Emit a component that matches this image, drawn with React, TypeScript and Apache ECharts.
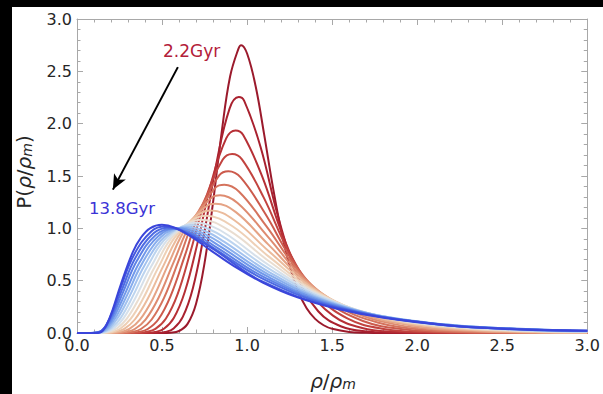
import React, { useEffect, useRef } from "react";
import * as echarts from "echarts";

// Density PDFs P(rho/rho_m), earliest (2.2 Gyr) first, latest (13.8 Gyr) last.
// Each entry is [rho/rho_m, P].
const profile00 = [
  [0, 0], [0.5, 0], [0.55, 0.003], [0.6, 0.019], [0.65, 0.087], [0.7, 0.28],
  [0.75, 0.67], [0.8, 1.25], [0.85, 1.91], [0.9, 2.45], [0.95, 2.72], [0.965, 2.75],
  [1.0, 2.67], [1.05, 2.36], [1.1, 1.9], [1.15, 1.41], [1.2, 0.98], [1.25, 0.64],
  [1.3, 0.4], [1.35, 0.236], [1.4, 0.135], [1.45, 0.074], [1.5, 0.04], [1.6, 0.01],
  [1.7, 0.002], [1.8, 0], [3.0, 0],
];
const profile01 = [
  [0, 0], [0.47, 0], [0.518, 0.009], [0.568, 0.043], [0.622, 0.154], [0.682, 0.433],
  [0.747, 0.947], [0.819, 1.615], [0.897, 2.144], [0.951, 2.254], [0.983, 2.217],
  [1.078, 1.785], [1.181, 1.12], [1.294, 0.547], [1.418, 0.208], [1.554, 0.062],
  [1.703, 0.014], [1.866, 0.003], [2.0, 0], [3.0, 0],
];
const profile02 = [
  [0, 0], [0.41, 0], [0.459, 0.009], [0.511, 0.04], [0.569, 0.143], [0.634, 0.394],
  [0.707, 0.849], [0.787, 1.423], [0.877, 1.859], [0.932, 1.935], [0.977, 1.891],
  [1.088, 1.498], [1.212, 0.924], [1.351, 0.444], [1.505, 0.166], [1.676, 0.048],
  [1.868, 0.011], [2.081, 0.002], [2.25, 0], [3.0, 0],
];
const profile03 = [
  [0, 0], [0.36, 0], [0.407, 0.009], [0.461, 0.039], [0.522, 0.136], [0.591, 0.369],
  [0.668, 0.781], [0.757, 1.289], [0.857, 1.657], [0.912, 1.711], [0.97, 1.659],
  [1.098, 1.293], [1.243, 0.785], [1.407, 0.371], [1.592, 0.137], [1.803, 0.039],
  [2.041, 0.009], [2.31, 0.002], [2.5, 0], [3.0, 0],
];
const profile04 = [
  [0, 0], [0.31, 0], [0.362, 0.009], [0.416, 0.038], [0.479, 0.131], [0.55, 0.352],
  [0.633, 0.734], [0.728, 1.192], [0.837, 1.508], [0.89, 1.546], [0.962, 1.487],
  [1.106, 1.141], [1.271, 0.682], [1.462, 0.318], [1.681, 0.115], [1.932, 0.033],
  [2.221, 0.007], [2.554, 0.001], [3.0, 0],
];
const profile05 = [
  [0, 0], [0.27, 0], [0.322, 0.009], [0.376, 0.038], [0.439, 0.129], [0.513, 0.34],
  [0.599, 0.698], [0.699, 1.117], [0.816, 1.391], [0.866, 1.417], [0.953, 1.35],
  [1.113, 1.021], [1.299, 0.601], [1.517, 0.275], [1.772, 0.098], [2.069, 0.027],
  [2.416, 0.006], [2.821, 0.001], [3.0, 0],
];
const profile06 = [
  [0, 0], [0.23, 0], [0.287, 0.009], [0.34, 0.038], [0.403, 0.128], [0.478, 0.332],
  [0.567, 0.672], [0.672, 1.059], [0.796, 1.3], [0.841, 1.317], [0.944, 1.243],
  [1.119, 0.926], [1.326, 0.537], [1.572, 0.242], [1.863, 0.085], [2.208, 0.023],
  [2.617, 0.005], [3.0, 0.001],
];
const profile07 = [
  [0, 0], [0.2, 0], [0.256, 0.009], [0.308, 0.039], [0.37, 0.128], [0.446, 0.328],
  [0.536, 0.653], [0.645, 1.014], [0.776, 1.226], [0.814, 1.236], [0.934, 1.155],
  [1.124, 0.847], [1.352, 0.484], [1.627, 0.215], [1.957, 0.075], [2.355, 0.02],
  [2.834, 0.004], [3.0, 0.003],
];
const profile08 = [
  [0, 0], [0.17, 0], [0.228, 0.01], [0.278, 0.04], [0.34, 0.129], [0.415, 0.325],
  [0.507, 0.639], [0.619, 0.978], [0.756, 1.165], [0.787, 1.17], [0.923, 1.08],
  [1.128, 0.781], [1.377, 0.439], [1.682, 0.193], [2.054, 0.066], [2.509, 0.018],
  [3.0, 0.004],
];
const profile09 = [
  [0, 0], [0.15, 0], [0.206, 0.01], [0.254, 0.041], [0.314, 0.132], [0.388, 0.327],
  [0.48, 0.632], [0.595, 0.953], [0.759, 1.121], [0.912, 1.022], [1.13, 0.727],
  [1.4, 0.403], [1.735, 0.174], [2.15, 0.059], [2.665, 0.015], [3.0, 0.007],
];
const profile10 = [
  [0, 0], [0.13, 0], [0.188, 0.011], [0.234, 0.043], [0.292, 0.135], [0.365, 0.331],
  [0.457, 0.63], [0.572, 0.936], [0.731, 1.083], [0.901, 0.974], [1.131, 0.683],
  [1.421, 0.373], [1.786, 0.159], [2.245, 0.053], [2.823, 0.014], [3.0, 0.009],
];
const profile11 = [
  [0, 0], [0.12, 0], [0.174, 0.011], [0.218, 0.045], [0.273, 0.14], [0.344, 0.337],
  [0.435, 0.632], [0.551, 0.925], [0.703, 1.053], [0.788, 1.023], [0.889, 0.934],
  [1.131, 0.645], [1.44, 0.347], [1.835, 0.145], [2.34, 0.047], [3.0, 0.012],
];
const profile12 = [
  [0, 0], [0.11, 0], [0.163, 0.012], [0.204, 0.048], [0.257, 0.145], [0.326, 0.345],
  [0.415, 0.638], [0.531, 0.919], [0.675, 1.031], [0.773, 0.994], [0.877, 0.901],
  [1.13, 0.613], [1.458, 0.325], [1.883, 0.134], [2.435, 0.043], [3.0, 0.014],
];
const profile13 = [
  [0, 0], [0.1, 0], [0.154, 0.013], [0.193, 0.051], [0.243, 0.152], [0.31, 0.355],
  [0.397, 0.646], [0.513, 0.917], [0.647, 1.015], [0.758, 0.97], [0.864, 0.873],
  [1.127, 0.585], [1.474, 0.305], [1.93, 0.124], [2.53, 0.039], [3.0, 0.017],
];
const profile14 = [
  [0, 0], [0.09, 0], [0.148, 0.014], [0.184, 0.054], [0.232, 0.159], [0.296, 0.367],
  [0.381, 0.658], [0.495, 0.92], [0.62, 1.005], [0.742, 0.952], [0.852, 0.85],
  [1.124, 0.561], [1.488, 0.289], [1.975, 0.116], [2.625, 0.034], [3.0, 0.018],
];
const profile15 = [
  [0, 0], [0.085, 0], [0.144, 0.015], [0.177, 0.058], [0.222, 0.168], [0.284, 0.381],
  [0.367, 0.673], [0.479, 0.927], [0.594, 1.0], [0.728, 0.937], [0.839, 0.83],
  [1.12, 0.54], [1.501, 0.274], [2.018, 0.104], [2.72, 0.029], [3.0, 0.019],
];
const profile16 = [
  [0, 0], [0.08, 0], [0.142, 0.017], [0.172, 0.062], [0.215, 0.178], [0.273, 0.397],
  [0.353, 0.692], [0.463, 0.937], [0.567, 0.999], [0.712, 0.925], [0.825, 0.813],
  [1.114, 0.521], [1.513, 0.26], [2.063, 0.094], [2.821, 0.027], [3.0, 0.02],
];
const profile17 = [
  [0, 0], [0.09, 0], [0.122, 0.004], [0.142, 0.019], [0.17, 0.067], [0.21, 0.189],
  [0.265, 0.417], [0.342, 0.714], [0.45, 0.952], [0.542, 1.005], [0.697, 0.919],
  [0.812, 0.801], [1.108, 0.505], [1.522, 0.248], [2.103, 0.087], [2.475, 0.045],
  [3.0, 0.021],
];
const profile18 = [
  [0, 0], [0.1, 0], [0.128, 0.005], [0.146, 0.021], [0.171, 0.073], [0.208, 0.203],
  [0.259, 0.44], [0.333, 0.741], [0.438, 0.973], [0.519, 1.017], [0.683, 0.917],
  [0.809, 0.793], [1.09, 0.492], [1.529, 0.238], [2.14, 0.081], [2.536, 0.04],
  [3.0, 0.022],
];
const profile19 = [
  [0, 0], [0.1, 0], [0.136, 0.005], [0.152, 0.023], [0.175, 0.08], [0.209, 0.219],
  [0.258, 0.466], [0.328, 0.773], [0.374, 0.907], [0.429, 1.0], [0.499, 1.034],
  [0.575, 1.007], [0.671, 0.92], [0.786, 0.79], [0.925, 0.637], [1.092, 0.482],
  [1.292, 0.343], [1.533, 0.23], [1.822, 0.14], [2.17, 0.074], [2.588, 0.034],
  [3.0, 0.022],
];

const profiles = [
  profile00, profile01, profile02, profile03, profile04, profile05, profile06,
  profile07, profile08, profile09, profile10, profile11, profile12, profile13,
  profile14, profile15, profile16, profile17, profile18, profile19,
];

// red (early) -> pale -> blue (late)
const profileColors = [
  "#9b1a2c", "#a9212f", "#b62f35", "#c2433f", "#cc5a4c", "#d5735d", "#de8b70",
  "#e5a385", "#ebbb9c", "#eed0b6", "#e9ddd0", "#d6e0ea", "#bcd4ef", "#a2c2ef",
  "#88aeed", "#7098ea", "#5d82e6", "#4d6be2", "#4257de", "#3a45da",
];

const FRAME = "#a8a8a8";
const TEXT = "#262626";

function makeAxis(kind: "x" | "y", pos: string, showLabels: boolean) {
  return {
    type: "value",
    position: pos,
    min: 0,
    max: 3,
    interval: 0.5,
    axisLine: { show: true, onZero: false, lineStyle: { color: FRAME, width: 1 } },
    axisTick: { show: true, inside: true, length: 6, lineStyle: { color: FRAME } },
    minorTick: { show: true, splitNumber: 5, length: 3.5, lineStyle: { color: FRAME } },
    splitLine: { show: false },
    axisLabel: {
      show: showLabels,
      color: TEXT,
      fontFamily: "DejaVu Sans",
      fontSize: 16,
      margin: kind === "x" ? 4 : 5,
      formatter: (v: number) => v.toFixed(1),
    },
  };
}

const titleRich = {
  n: { fontFamily: "DejaVu Sans", fontSize: 20, lineHeight: 20, fill: TEXT },
  i: { fontFamily: "DejaVu Sans", fontStyle: "italic", fontSize: 20, lineHeight: 20, fill: TEXT },
  s: { fontFamily: "DejaVu Sans", fontStyle: "italic", fontSize: 14, lineHeight: 12, verticalAlign: "bottom", fill: TEXT },
};

export default function App() {
  const ref = useRef<HTMLDivElement>(null);
  useEffect(() => {
    if (!ref.current) return;
    const chart = echarts.init(ref.current, undefined, { renderer: "svg" });
    const series: any[] = profiles.map((c, i) => ({
      type: "line",
      data: c,
      showSymbol: false,
      smooth: 0.4,
      lineStyle: { color: profileColors[i], width: 2 },
      silent: true,
    }));
    // arrow from the early epoch towards the late one
    series[0].markLine = {
      silent: true,
      symbol: ["none", "arrow"],
      symbolSize: [10, 15],
      lineStyle: { color: "#000", width: 2, type: "solid" },
      label: { show: false },
      data: [[{ coord: [0.593, 2.54] }, { coord: [0.211, 1.37] }]],
    };
    chart.setOption({
      animation: false,
      backgroundColor: "#fff",
      grid: { left: 65, right: 15, top: 12, bottom: 61, containLabel: false },
      xAxis: [makeAxis("x", "bottom", true), makeAxis("x", "top", false)],
      yAxis: [makeAxis("y", "left", true), makeAxis("y", "right", false)],
      series,
      graphic: [
        {
          type: "text",
          left: 151,
          top: 35,
          z: 100,
          style: { text: "2.2Gyr", fill: "#b3203a", font: '17px "DejaVu Sans"' },
        },
        {
          type: "text",
          left: 77,
          top: 193,
          z: 100,
          style: { text: "13.8Gyr", fill: "#3b33d6", font: '16.5px "DejaVu Sans"' },
        },
        {
          type: "text",
          x: 12,
          y: 165,
          rotation: Math.PI / 2,
          style: {
            text: "{n|P(}{i|ρ}{n|/}{i|ρ}{s|m}{n|)}",
            align: "center",
            verticalAlign: "middle",
            fill: TEXT,
            rich: titleRich,
          },
        },
        {
          type: "text",
          x: 321,
          y: 374,
          style: {
            text: "{i|ρ}{n|/}{i|ρ}{s|m}",
            align: "center",
            verticalAlign: "middle",
            fill: TEXT,
            rich: titleRich,
          },
        },
      ],
    });
    return () => chart.dispose();
  }, []);
  return (
    <div style={{ position: "fixed", left: 0, top: 0, width: 603, height: 394, background: "#000" }}>
      <div
        ref={ref}
        style={{ position: "absolute", left: 12, top: 7, width: 591, height: 387, background: "#fff" }}
      />
    </div>
  );
}
